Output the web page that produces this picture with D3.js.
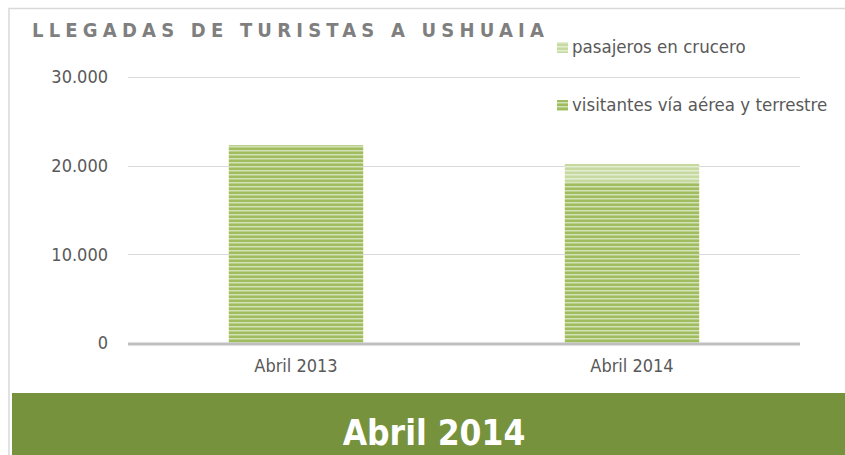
<!DOCTYPE html>
<html>
<head>
<meta charset="utf-8">
<script src="https://cdn.jsdelivr.net/npm/d3@7"></script>
<style>
    body { margin: 0; background: #fff; }
    svg { display: block; }
    text { font-family: "Liberation Sans Narrow", "DejaVu Sans Condensed", "Liberation Sans", sans-serif; }
</style>
</head>
<body>
<svg id="chart" width="845" height="455"></svg>
<script>
/* chart data */
const categories = ["Abril 2013", "Abril 2014"];
const visitantes = [22300, 18150];
const crucero = [0, 2050];
const seriesNames = ["visitantes vía aérea y terrestre", "pasajeros en crucero"];
const yTicks = [0, 10000, 20000, 30000];
const chartTitle = "LLEGADAS DE TURISTAS A USHUAIA";
const bannerText = "Abril 2014";

const svg = d3.select("#chart");
const W = 845, H = 455;

// stripes like the office texture fill
const defs = svg.append("defs");
function stripes(id, dark, light) {
    const p = defs.append("pattern")
        .attr("id", id)
        .attr("patternUnits", "userSpaceOnUse")
        .attr("width", 8).attr("height", 4);
    p.append("rect").attr("width", 8).attr("height", 4).attr("fill", dark);
    p.append("rect").attr("y", 2).attr("width", 8).attr("height", 1.5).attr("fill", light);
}
stripes("stripe-vis", "#9fbd5e", "#d3e2b6");
stripes("stripe-cru", "#c6d9a0", "#e4edd2");

// frame
svg.append("path")
    .attr("d", `M9,${H} V8.5 H${W}`)
    .attr("fill", "none")
    .attr("stroke", "#d9d9d9")
    .attr("stroke-width", 1.5);

const x = d3.scaleBand().domain(categories).range([128, 800]).paddingInner(0.6).paddingOuter(0.3);
const y = d3.scaleLinear().domain([0, 30000]).range([343, 77]);

// gridlines
svg.append("g")
    .selectAll("line")
    .data(yTicks.filter(d => d > 0))
    .join("line")
    .attr("x1", 128).attr("x2", 800)
    .attr("y1", d => Math.round(y(d)) + 0.5).attr("y2", d => Math.round(y(d)) + 0.5)
    .attr("stroke", "#d9d9d9");

// y labels
svg.append("g")
    .selectAll("text")
    .data(yTicks)
    .join("text")
    .attr("x", 108)
    .attr("y", d => y(d))
    .attr("dy", "0.35em")
    .attr("text-anchor", "end")
    .attr("fill", "#595959")
    .style("font-size", "18px")
    .text(d => d3.format(",")(d).replace(/,/g, "."));

// stacked bars
const stack = categories.map((c, i) => ({ c, v: visitantes[i], k: crucero[i] }));
const bars = svg.append("g");
bars.selectAll("rect.vis")
    .data(stack)
    .join("rect")
    .attr("class", "vis")
    .attr("x", d => x(d.c))
    .attr("width", x.bandwidth())
    .attr("y", d => y(d.v))
    .attr("height", d => y(0) - y(d.v))
    .attr("fill", "url(#stripe-vis)");
bars.selectAll("rect.cru")
    .data(stack.filter(d => d.k > 0))
    .join("rect")
    .attr("class", "cru")
    .attr("x", d => x(d.c))
    .attr("width", x.bandwidth())
    .attr("y", d => y(d.v + d.k))
    .attr("height", d => y(d.v) - y(d.v + d.k))
    .attr("fill", "url(#stripe-cru)");

// x axis line
svg.append("line")
    .attr("x1", 128).attr("x2", 800)
    .attr("y1", y(0) + 1).attr("y2", y(0) + 1)
    .attr("stroke", "#bfbfbf")
    .attr("stroke-width", 3);

svg.append("g")
    .selectAll("text")
    .data(categories)
    .join("text")
    .attr("x", d => x(d) + x.bandwidth() / 2)
    .attr("y", 372)
    .attr("text-anchor", "middle")
    .attr("fill", "#595959")
    .style("font-size", "18px")
    .text(d => d);

// title
svg.append("text")
    .attr("x", 32)
    .attr("y", 37)
    .attr("fill", "#7f7f7f")
    .style("font-size", "20px")
    .style("font-weight", "bold")
    .style("letter-spacing", "5.2px")
    .text(chartTitle);

// legend
const legend = [
    { name: seriesNames[1], fill: "url(#stripe-cru)", y: 47 },
    { name: seriesNames[0], fill: "url(#stripe-vis)", y: 105 }
];
const lg = svg.append("g").selectAll("g").data(legend).join("g");
lg.append("rect")
    .attr("x", 557).attr("y", d => d.y - 5)
    .attr("width", 11).attr("height", 11)
    .attr("fill", d => d.fill);
lg.append("text")
    .attr("x", 572).attr("y", d => d.y)
    .attr("dy", "0.35em")
    .attr("fill", "#595959")
    .style("font-size", "18.5px")
    .text(d => d.name);

// banner
svg.append("rect")
    .attr("x", 12).attr("y", 393)
    .attr("width", W - 12).attr("height", H - 393)
    .attr("fill", "#76923c");
svg.append("text")
    .attr("x", 434).attr("y", 445)
    .attr("text-anchor", "middle")
    .attr("fill", "#fff")
    .style("font-size", "35px")
    .style("font-weight", "bold")
    .text(bannerText);
</script>
</body>
</html>
